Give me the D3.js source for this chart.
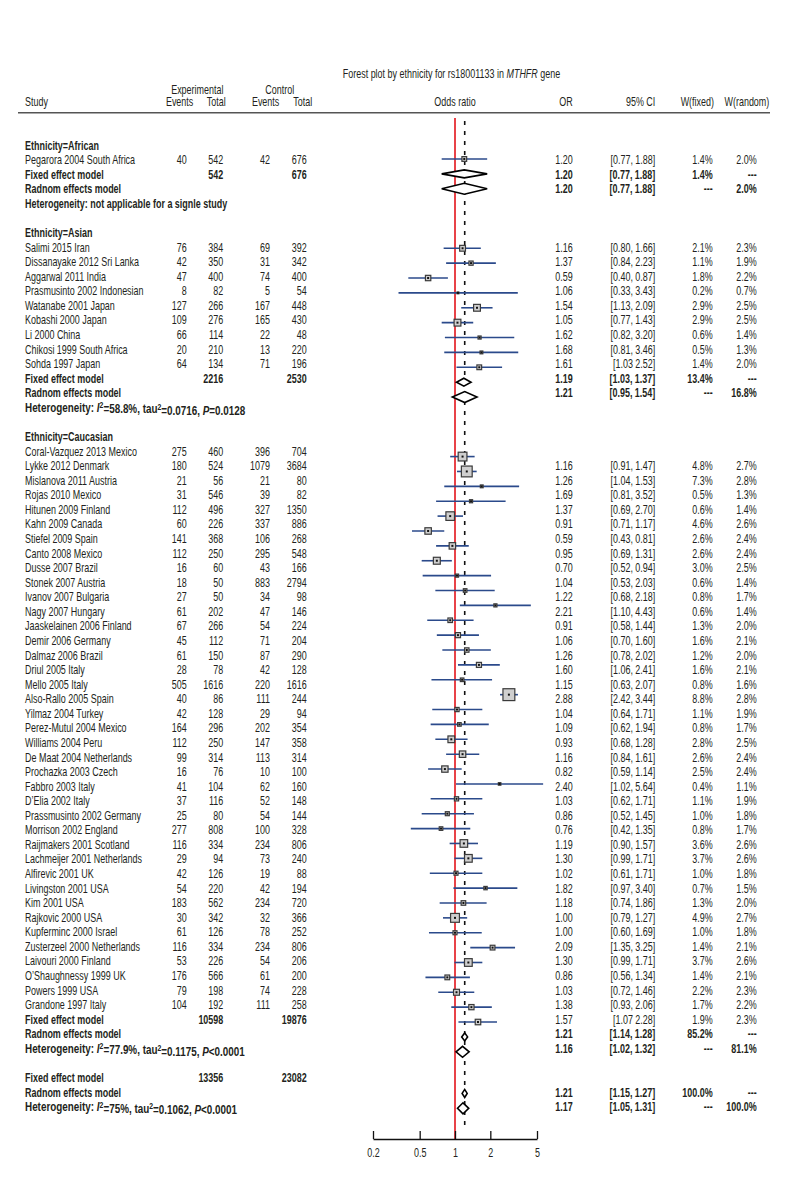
<!DOCTYPE html>
<html>
<head>
<meta charset="utf-8">
<script src="https://cdn.jsdelivr.net/npm/d3@7"></script>
<style>
body{margin:0;background:#fff}
svg text{font-family:"Liberation Sans",Arial,sans-serif;font-size:13px;fill:#231f20}
</style>
</head>
<body>
<div id="chart"></div>
<script>
// study rows: name, exp events, exp total, ctrl events, ctrl total, OR, lower, upper, W(fixed), W(random)
var african = [
  ["Pegarora 2004 South Africa",40,542,42,676,1.20,0.77,1.88,1.4,2.0]
];
var asian = [
  ["Salimi 2015 Iran",76,384,69,392,1.16,0.80,1.66,2.1,2.3],
  ["Dissanayake 2012 Sri Lanka",42,350,31,342,1.37,0.84,2.23,1.1,1.9],
  ["Aggarwal 2011 India",47,400,74,400,0.59,0.40,0.87,1.8,2.2],
  ["Prasmusinto 2002 Indonesian",8,82,5,54,1.06,0.33,3.43,0.2,0.7],
  ["Watanabe 2001 Japan",127,266,167,448,1.54,1.13,2.09,2.9,2.5],
  ["Kobashi 2000 Japan",109,276,165,430,1.05,0.77,1.43,2.9,2.5],
  ["Li 2000 China",66,114,22,48,1.62,0.82,3.20,0.6,1.4],
  ["Chikosi 1999 South Africa",20,210,13,220,1.68,0.81,3.46,0.5,1.3],
  ["Sohda 1997 Japan",64,134,71,196,1.61,1.03,2.52,1.4,2.0]
];
var caucasian = [
  ["Coral-Vazquez 2013 Mexico",275,460,396,704,1.16,0.91,1.47,4.8,2.7],
  ["Lykke 2012 Denmark",180,524,1079,3684,1.26,1.04,1.53,7.3,2.8],
  ["Mislanova 2011 Austria",21,56,21,80,1.69,0.81,3.52,0.5,1.3],
  ["Rojas 2010 Mexico",31,546,39,82,1.37,0.69,2.70,0.6,1.4],
  ["Hitunen 2009 Finland",112,496,327,1350,0.91,0.71,1.17,4.6,2.6],
  ["Kahn 2009 Canada",60,226,337,886,0.59,0.43,0.81,2.6,2.4],
  ["Stiefel 2009 Spain",141,368,106,268,0.95,0.69,1.31,2.6,2.4],
  ["Canto 2008 Mexico",112,250,295,548,0.70,0.52,0.94,3.0,2.5],
  ["Dusse 2007 Brazil",16,60,43,166,1.04,0.53,2.03,0.6,1.4],
  ["Stonek 2007 Austria",18,50,883,2794,1.22,0.68,2.18,0.8,1.7],
  ["Ivanov 2007 Bulgaria",27,50,34,98,2.21,1.10,4.43,0.6,1.4],
  ["Nagy 2007 Hungary",61,202,47,146,0.91,0.58,1.44,1.3,2.0],
  ["Jaaskelainen 2006 Finland",67,266,54,224,1.06,0.70,1.60,1.6,2.1],
  ["Demir 2006 Germany",45,112,71,204,1.26,0.78,2.02,1.2,2.0],
  ["Dalmaz 2006 Brazil",61,150,87,290,1.60,1.06,2.41,1.6,2.1],
  ["Driul 2005 Italy",28,78,42,128,1.15,0.63,2.07,0.8,1.6],
  ["Mello 2005 Italy",505,1616,220,1616,2.88,2.42,3.44,8.8,2.8],
  ["Also-Rallo 2005 Spain",40,86,111,244,1.04,0.64,1.71,1.1,1.9],
  ["Yilmaz 2004 Turkey",42,128,29,94,1.09,0.62,1.94,0.8,1.7],
  ["Perez-Mutul 2004 Mexico",164,296,202,354,0.93,0.68,1.28,2.8,2.5],
  ["Williams 2004 Peru",112,250,147,358,1.16,0.84,1.61,2.6,2.4],
  ["De Maat 2004 Netherlands",99,314,113,314,0.82,0.59,1.14,2.5,2.4],
  ["Prochazka 2003 Czech",16,76,10,100,2.40,1.02,5.64,0.4,1.1],
  ["Fabbro 2003 Italy",41,104,62,160,1.03,0.62,1.71,1.1,1.9],
  ["D\u2019Elia 2002 Italy",37,116,52,148,0.86,0.52,1.45,1.0,1.8],
  ["Prassmusinto 2002 Germany",25,80,54,144,0.76,0.42,1.35,0.8,1.7],
  ["Morrison 2002 England",277,808,100,328,1.19,0.90,1.57,3.6,2.6],
  ["Raijmakers 2001 Scotland",116,334,234,806,1.30,0.99,1.71,3.7,2.6],
  ["Lachmeijer 2001 Netherlands",29,94,73,240,1.02,0.61,1.71,1.0,1.8],
  ["Alfirevic 2001 UK",42,126,19,88,1.82,0.97,3.40,0.7,1.5],
  ["Livingston 2001 USA",54,220,42,194,1.18,0.74,1.86,1.3,2.0],
  ["Kim 2001 USA",183,562,234,720,1.00,0.79,1.27,4.9,2.7],
  ["Rajkovic 2000 USA",30,342,32,366,1.00,0.60,1.69,1.0,1.8],
  ["Kupferminc 2000 Israel",61,126,78,252,2.09,1.35,3.25,1.4,2.1],
  ["Zusterzeel 2000 Netherlands",116,334,234,806,1.30,0.99,1.71,3.7,2.6],
  ["Laivouri 2000 Finland",53,226,54,206,0.86,0.56,1.34,1.4,2.1],
  ["O\u2019Shaughnessy 1999 UK",176,566,61,200,1.03,0.72,1.46,2.2,2.3],
  ["Powers 1999 USA",79,198,74,228,1.38,0.93,2.06,1.7,2.2],
  ["Grandone 1997 Italy",104,192,111,258,1.57,1.07,2.28,1.9,2.3]
];
// CI labels printed without the comma in the source
var ciNoComma = ["Sohda 1997 Japan","Grandone 1997 Italy"];

// pooled results: African, Asian, Caucasian, overall
var groupNames = ["Ethnicity=African","Ethnicity=Asian","Ethnicity=Caucasian"];
var pooledTotals = [[542,676],[2216,2530],[10598,19876],[13356,23082]];
var fixedEffect = [[1.20,0.77,1.88,1.4],[1.19,1.03,1.37,13.4],[1.21,1.14,1.28,85.2],[1.21,1.15,1.27,100.0]];
var randomEffect = [[1.20,0.77,1.88,2.0],[1.21,0.95,1.54,16.8],[1.16,1.02,1.32,81.1],[1.17,1.05,1.31,100.0]];
var heterogeneity = [null,["58.8%","0.0716","=0.0128"],["77.9%","0.1175","<0.0001"],["75%","0.1062","<0.0001"]];
var axisTicks = [0.2,0.5,1,2,5];

var W = 792, H = 1200;
var svg = d3.select("#chart").append("svg").attr("width",W).attr("height",H);

// table rows and plot rows are not on the same pitch in the source
var textY = d3.scaleLinear().domain([0,66]).range([145,145+66*14.57]);
var plotY = d3.scaleLinear().domain([0,65]).range([144.1,144.1+65*14.88]);
var x = d3.scaleLog().domain([0.2,5]).range([373,537]);

var f2 = d3.format(".2f"), f1 = d3.format(".1f");
var col = {e1:186.7, n1:223.3, e2:270, n2:306.7, or:572.7, ci:655.3, wf:712.7, wr:756.7};
var SX = 0.69; // narrow the face to the condensed look of the original

function txt(g, xx, yy, s, anchor, bold){
  return g.append("text").attr("transform","translate("+xx+","+yy+") scale("+SX+",1)")
    .attr("dy","0.35em")
    .attr("text-anchor",anchor||"start").style("font-weight",bold?"bold":null).text(s);
}

// title
var title = svg.append("text").attr("transform","translate(451.5,73) scale("+SX+",1)")
  .attr("dy","0.35em").attr("text-anchor","middle");
title.append("tspan").text("Forest plot by ethnicity for rs18001133 in ");
title.append("tspan").style("font-style","italic").text("MTHFR");
title.append("tspan").text(" gene");

// header
var hd = svg.append("g");
txt(hd,25,101.5,"Study");
txt(hd,197.3,89.5,"Experimental","middle");
txt(hd,193.3,101.5,"Events","end");
txt(hd,225.7,101.5,"Total","end");
txt(hd,279.7,89.5,"Control","middle");
txt(hd,279.3,101.5,"Events","end");
txt(hd,312.3,101.5,"Total","end");
txt(hd,x(1),101.5,"Odds ratio","middle");
txt(hd,572.7,101.5,"OR","end");
txt(hd,655.3,101.5,"95% CI","end");
txt(hd,714,101.5,"W(fixed)","end");
txt(hd,769.3,101.5,"W(random)","end");
svg.append("line").attr("x1",18).attr("x2",770).attr("y1",112.7).attr("y2",112.7)
  .attr("stroke","#555").attr("stroke-width",1.5);

// plot reference lines
var plot = svg.append("g");
plot.append("line").attr("x1",x(1)).attr("x2",x(1)).attr("y1",118).attr("y2",1139)
  .attr("stroke","#e3141b").attr("stroke-width",1.6);
plot.append("line").attr("x1",x(fixedEffect[3][0])).attr("x2",x(fixedEffect[3][0]))
  .attr("y1",121).attr("y2",1128)
  .attr("stroke","#111").attr("stroke-width",1.6).attr("stroke-dasharray","4,6");

var tbl = svg.append("g");
var marks = plot.append("g");

function ciText(d){
  return ciNoComma.indexOf(d[0])>=0 ? "["+f2(d[6])+" "+f2(d[7])+"]" : "["+f2(d[6])+", "+f2(d[7])+"]";
}
function hetLine(g, yy, h){
  var t = g.append("text").attr("transform","translate(25,"+yy+") scale("+(h?0.76:SX)+",1)")
    .attr("dy","0.35em").style("font-weight","bold");
  if(!h){ t.text("Heterogeneity: not applicable for a signle study"); return; }
  t.append("tspan").text("Heterogeneity: ");
  t.append("tspan").style("font-style","italic").text("I");
  t.append("tspan").attr("dy","-0.4em").style("font-size","9px").text("2");
  t.append("tspan").attr("dy","0.4em").text("="+h[0]+", tau");
  t.append("tspan").attr("dy","-0.4em").style("font-size","9px").text("2");
  t.append("tspan").attr("dy","0.4em").text("="+h[1]+", ");
  t.append("tspan").style("font-style","italic").text("P");
  t.append("tspan").text(h[2]);
}
function statsRow(yy, or, lo, hi, wf, wr, bold, ci){
  txt(tbl,col.or,yy,f2(or),"end",bold);
  txt(tbl,col.ci,yy,ci||"["+f2(lo)+", "+f2(hi)+"]","end",bold);
  txt(tbl,col.wf,yy,wf==null?"---":f1(wf)+"%","end",bold);
  txt(tbl,col.wr,yy,wr==null?"---":f1(wr)+"%","end",bold);
}
function diamond(yy, e, h){
  var p = [[x(e[1]),yy],[x(e[0]),yy-h/2],[x(e[2]),yy],[x(e[0]),yy+h/2]];
  marks.append("path").attr("d","M"+p.join("L")+"Z")
    .attr("fill","#fff").attr("stroke","#000").attr("stroke-width",1.6);
}

var groups = [african, asian, caucasian];
var statShift = [0,0,1,1];
var r = 0;
groups.forEach(function(studies, gi){
  var s = statShift[gi];
  txt(tbl,25,textY(r),groupNames[gi],"start",true);
  r++;
  studies.forEach(function(d){
    var ty = textY(r);
    txt(tbl,25,ty,d[0]);
    txt(tbl,col.e1,ty,d[1],"end");
    txt(tbl,col.n1,ty,d[2],"end");
    txt(tbl,col.e2,ty,d[3],"end");
    txt(tbl,col.n2,ty,d[4],"end");
    statsRow(textY(r+s),d[5],d[6],d[7],d[8],d[9],false,ciText(d));
    // marker
    var py = plotY(r), side = 4*Math.sqrt(d[8]);
    marks.append("line").attr("x1",x(d[6])).attr("x2",x(d[7])).attr("y1",py).attr("y2",py)
      .attr("stroke","#2b4a8b").attr("stroke-width",1.6);
    marks.append("rect").attr("x",x(d[5])-side/2).attr("y",py-side/2)
      .attr("width",side).attr("height",side)
      .attr("fill","#cfcfcf").attr("stroke","#3a3a3a").attr("stroke-width",1.2);
    marks.append("rect").attr("x",x(d[5])-1).attr("y",py-1).attr("width",2).attr("height",2).attr("fill","#111");
    r++;
  });
  var fe = fixedEffect[gi], re = randomEffect[gi];
  txt(tbl,25,textY(r),"Fixed effect model","start",true);
  txt(tbl,col.n1,textY(r),pooledTotals[gi][0],"end",true);
  txt(tbl,col.n2,textY(r),pooledTotals[gi][1],"end",true);
  statsRow(textY(r+s),fe[0],fe[1],fe[2],fe[3],null,true);
  diamond(plotY(r),fe,8);
  txt(tbl,25,textY(r+1),"Radnom effects model","start",true);
  statsRow(textY(r+1+s),re[0],re[1],re[2],null,re[3],true);
  diamond(plotY(r+1),re,11);
  hetLine(tbl,textY(r+2),heterogeneity[gi]);
  r += 4;
});

// overall
var s = statShift[3];
txt(tbl,25,textY(r),"Fixed effect model","start",true);
txt(tbl,col.n1,textY(r),pooledTotals[3][0],"end",true);
txt(tbl,col.n2,textY(r),pooledTotals[3][1],"end",true);
txt(tbl,25,textY(r+1),"Radnom effects model","start",true);
statsRow(textY(r+s),fixedEffect[3][0],fixedEffect[3][1],fixedEffect[3][2],fixedEffect[3][3],null,true);
statsRow(textY(r+1+s),randomEffect[3][0],randomEffect[3][1],randomEffect[3][2],null,randomEffect[3][3],true);
hetLine(tbl,textY(r+2),heterogeneity[3]);
diamond(plotY(r)-3,fixedEffect[3],8);
diamond(plotY(r+1)-3,randomEffect[3],11);

// axis
var ax = svg.append("g").attr("transform","translate(0,1139)")
  .call(d3.axisBottom(x).tickValues(axisTicks).tickFormat(d3.format("")).tickSizeInner(-8).tickSizeOuter(0).tickPadding(9));
ax.select(".domain").attr("stroke","#111").attr("stroke-width",1.3);
ax.selectAll(".tick line").attr("stroke","#111").attr("stroke-width",1.3);
ax.selectAll("text").style("font-size","13px").attr("fill","#231f20")
  .style("font-family","\"Liberation Sans\",Arial,sans-serif")
  .attr("transform","scale("+SX+",1)");
</script>
</body>
</html>
